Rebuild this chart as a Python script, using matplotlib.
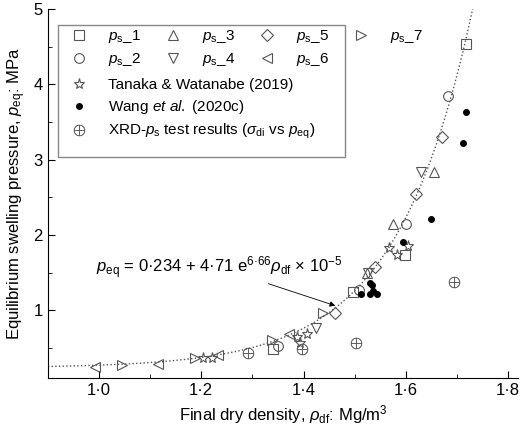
import matplotlib
matplotlib.use("Agg")
import matplotlib.pyplot as plt
import numpy as np
from matplotlib.patches import Rectangle

plt.rcParams['font.family'] = ['Liberation Sans', 'DejaVu Sans']
plt.rcParams['mathtext.fontset'] = 'custom'
plt.rcParams['mathtext.rm'] = 'Liberation Sans'
plt.rcParams['mathtext.it'] = 'Liberation Sans:italic'

# series: (label, marker, x, y)
ps1_x = [1.340, 1.496, 1.599, 1.718]
ps1_y = [0.49, 1.24, 1.73, 4.54]
ps2_x = [1.349, 1.509, 1.601, 1.683]
ps2_y = [0.53, 1.27, 2.15, 3.85]
ps3_x = [1.523, 1.574, 1.654]
ps3_y = [1.49, 2.15, 2.83]
ps4_x = [1.425, 1.525, 1.630]
ps4_y = [0.76, 1.49, 2.83]
ps5_x = [1.461, 1.540, 1.620, 1.671]
ps5_y = [0.96, 1.58, 2.54, 3.30]
ps6_x = [0.992, 1.115, 1.232, 1.371]
ps6_y = [0.24, 0.29, 0.41, 0.69]
ps7_x = [1.045, 1.187, 1.338, 1.437]
ps7_y = [0.27, 0.37, 0.60, 0.96]
tanaka_x = [1.203, 1.221, 1.388, 1.406, 1.392, 1.566, 1.605, 1.583]
tanaka_y = [0.37, 0.37, 0.64, 0.68, 0.56, 1.83, 1.85, 1.73]
wang_x = [1.513, 1.529, 1.529, 1.544, 1.535, 1.533, 1.595, 1.650, 1.712, 1.718]
wang_y = [1.22, 1.36, 1.21, 1.22, 1.26, 1.34, 1.90, 2.21, 3.22, 3.64]
xrd_x = [1.291, 1.396, 1.503, 1.695]
xrd_y = [0.43, 0.48, 0.56, 1.37]

fig = plt.figure(figsize=(5.2, 4.34), dpi=100)
ax = fig.add_axes([0.092, 0.129, 0.905, 0.85])

gray = '#555555'
kw = dict(ls='none', mfc='none', mec=gray, ms=7, mew=0.8)
h = []
h += ax.plot(ps1_x, ps1_y, 's', label=r'$p_\mathrm{s}$_1', **kw)
h += ax.plot(ps2_x, ps2_y, 'o', label=r'$p_\mathrm{s}$_2', **kw)
h += ax.plot(ps3_x, ps3_y, '^', label=r'$p_\mathrm{s}$_3', **kw)
h += ax.plot(ps4_x, ps4_y, 'v', label=r'$p_\mathrm{s}$_4', **kw)
h += ax.plot(ps5_x, ps5_y, 'D', label=r'$p_\mathrm{s}$_5', **dict(kw, ms=6))
h += ax.plot(ps6_x, ps6_y, '<', label=r'$p_\mathrm{s}$_6', **kw)
h += ax.plot(ps7_x, ps7_y, '>', label=r'$p_\mathrm{s}$_7', **kw)
h2 = []
h2 += ax.plot(tanaka_x, tanaka_y, '*', label='Tanaka & Watanabe (2019)', **dict(kw, ms=8))
h2 += ax.plot(wang_x, wang_y, 'o', ls='none', color='black', ms=4, label=r'Wang $et\ al.$ (2020c)')
h2 += ax.plot(xrd_x, xrd_y, marker=r'$\oplus$', ls='none', color=gray, ms=8, mew=0.3,
              label=r'XRD-$p_\mathrm{s}$ test results ($\sigma_\mathrm{di}$ vs $p_\mathrm{eq}$)')

xf = np.linspace(0.9, 1.82, 200)
ax.plot(xf, 0.234 + 4.71e-5 * np.exp(6.66 * xf), ':', color=gray, lw=1, zorder=0)

ax.set_xlim(0.9, 1.82)
ax.set_ylim(0.1, 5)
ax.set_xticks([1.0, 1.2, 1.4, 1.6, 1.8])
ax.set_xticklabels(['1·0', '1·2', '1·4', '1·6', '1·8'])
ax.set_xticks([1.1, 1.3, 1.5, 1.7], minor=True)
ax.set_yticks([1, 2, 3, 4, 5])
ax.set_yticks([0.5, 1.5, 2.5, 3.5, 4.5], minor=True)
ax.tick_params(direction='in', labelsize=12, length=5)
ax.tick_params(which='minor', direction='in', length=3)
for s in ['top', 'right']:
    ax.spines[s].set_visible(False)
ax.set_xlabel(r'Final dry density, $\rho_\mathrm{df}$: Mg/m$^3$', fontsize=12)
ax.set_ylabel(r'Equilibrium swelling pressure, $p_\mathrm{eq}$: MPa', fontsize=12)

ax.add_patch(Rectangle((0.021, 0.599), 0.61, 0.358, transform=ax.transAxes,
                       fill=False, ec='#888888', lw=1))
leg1 = ax.legend(handles=h, ncol=4, frameon=False, loc='upper left',
                 bbox_to_anchor=(0.021, 0.965), fontsize=11, handletextpad=0.9,
                 columnspacing=1.1, borderaxespad=0, labelspacing=0.4)
ax.add_artist(leg1)
ax.legend(handles=h2, ncol=1, frameon=False, loc='upper left',
          bbox_to_anchor=(0.021, 0.83), fontsize=11, handletextpad=0.9,
          borderaxespad=0, labelspacing=0.4)

ax.annotate(r'$p_\mathrm{eq}$ = 0·234 + 4·71 e$^{6·66}$$\rho_\mathrm{df}$ × 10$^{-5}$',
            xy=(1.462, 1.06), xytext=(1.236, 1.5), ha='center', fontsize=12,
            arrowprops=dict(arrowstyle='-|>', color='black', lw=0.6, shrinkA=0, shrinkB=0,
                            mutation_scale=8))

fig.savefig('out.png', dpi=100)
